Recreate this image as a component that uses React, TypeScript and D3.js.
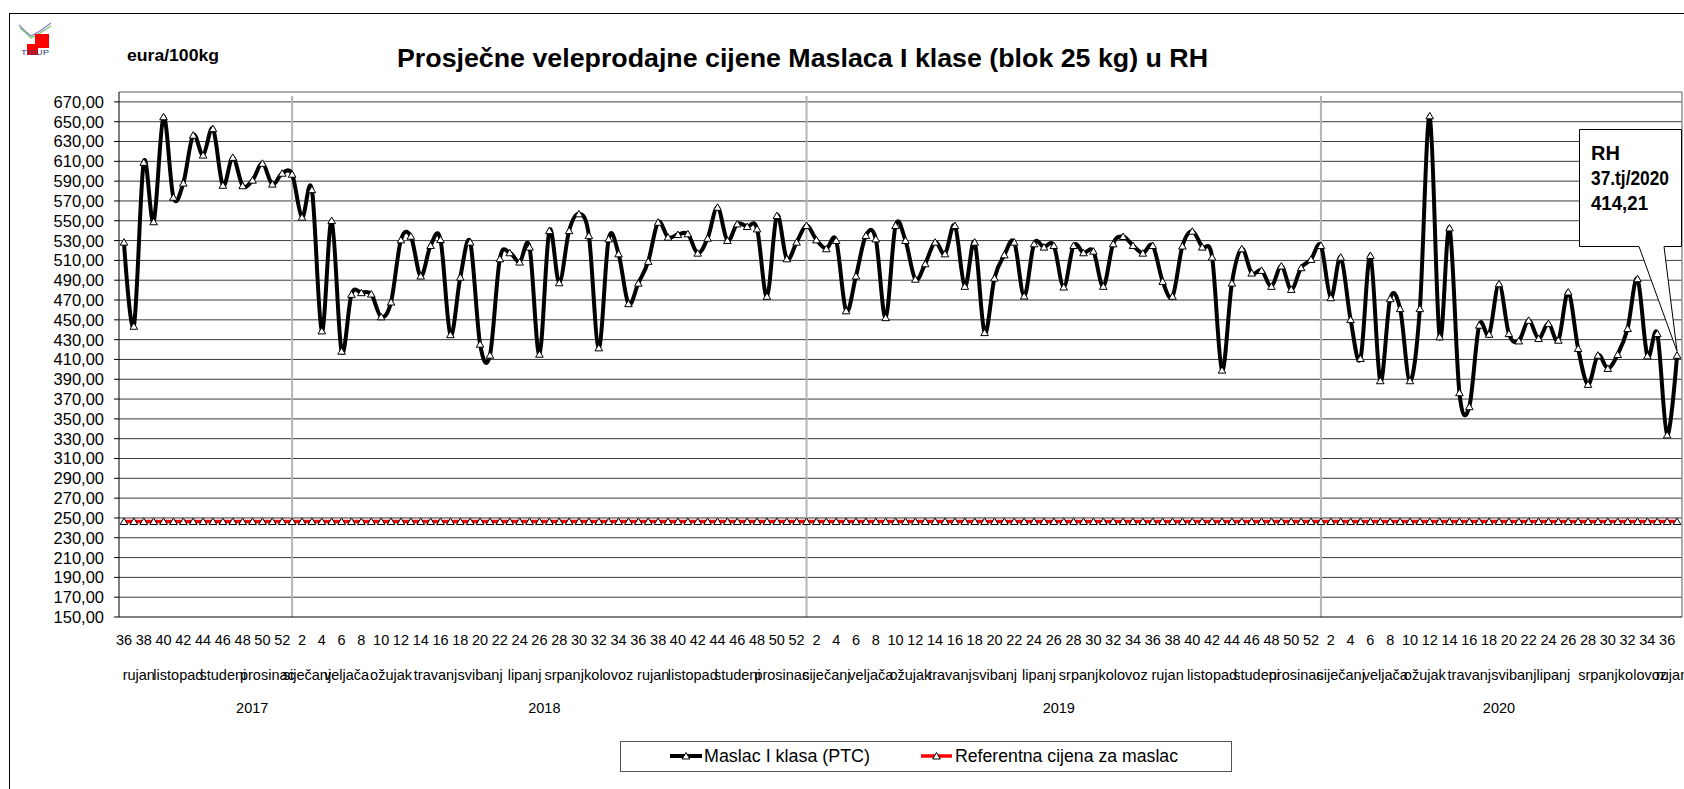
import * as d3 from 'd3';

// Maslac I klasa (PTC), eura/100kg, po tjednima
const weeks2017 = d3.range(36, 53);
const weeks2018 = d3.range(1, 53);
const weeks2019 = d3.range(1, 53);
const weeks2020 = d3.range(1, 38);

const maslac2017 = [528.4, 443.5, 609, 549, 655, 573.7, 588, 636.4, 616.3, 643, 585.8, 614, 585.4, 591, 608, 587, 598];
const maslac2018 = [
  597, 553.6, 581.4, 438.8, 550.2, 418.3, 475.7, 477.4, 476, 453, 468, 530.7, 534.4, 494.2, 525, 531,
  435, 493, 528.4, 425.4, 414.3, 511.6, 517.7, 508.3, 523.4, 415.3, 540, 487.4, 540, 557, 535, 421.7,
  531.7, 516.6, 466.3, 487, 509, 548.5, 533.4, 536.1, 536.8, 517.3, 532.4, 563.6, 530.1, 546.8, 544.2,
  541.8, 473.7, 555.2, 511.6, 528.4
];
const maslac2019 = [
  545.2, 530.7, 521.7, 530.1, 459.1, 494.2, 535.1, 531.7, 452.2, 545.2, 530.1, 491, 506.6, 528.4, 516.6,
  545.2, 483.8, 528.4, 437.1, 492.2, 515.6, 528.4, 474, 526.7, 523.4, 525, 483.1, 525, 517.7, 519.3,
  483.8, 526.7, 534.1, 525, 517.3, 525, 488.8, 473.7, 524.5, 539.5, 523.4, 513.3, 399.2, 487.1, 521.7,
  497.2, 499.9, 483.8, 504.3, 480.7, 502.6, 511
];
const maslac2020 = [
  525, 472.3, 513.3, 450.2, 411, 515, 388.5, 471.3, 461.3, 388.5, 461.3, 655.9, 432.8, 542.8, 376.4,
  362.3, 444.6, 435.4, 486.4, 436.1, 428.7, 449.5, 431.1, 446.2, 429.4, 478.1, 421, 384.8, 414.3, 400.9,
  415, 441.2, 491.5, 413.6, 436.1, 333.8, 414.21
];
const referentnaCijena = 246.4;

const years = ['2017', '2018', '2019', '2020'];
const monthNames = ['siječanj', 'veljača', 'ožujak', 'travanj', 'svibanj', 'lipanj', 'srpanj', 'kolovoz', 'rujan', 'listopad', 'studeni', 'prosinac'];
// broj tjedana po mjesecu (prvi mjesec u nizu, broj tjedana)
const months2017 = { first: 8, spans: [4, 4, 5, 4] };
const months2018 = { first: 0, spans: [4, 4, 5, 4, 5, 4, 4, 5, 4, 4, 5, 4] };
const months2019 = { first: 0, spans: [5, 4, 4, 4, 5, 4, 4, 5, 4, 5, 4, 4] };
const months2020 = { first: 0, spans: [5, 4, 4, 5, 4, 4, 5, 4, 2] };

const yTicks = d3.range(150, 671, 20);
const font = '"Liberation Sans", Arial, sans-serif';

const W = 1684;
const H = 789;
const plot = { left: 119, right: 1682, top: 92, bottom: 617 };

const App = () => {
  const weekLists = [weeks2017, weeks2018, weeks2019, weeks2020];
  const valueLists = [maslac2017, maslac2018, maslac2019, maslac2020];
  const monthLists = [months2017, months2018, months2019, months2020];

  const points = weekLists.flatMap((wl, yi) => wl.map((w, k) => ({ year: years[yi], week: w, value: valueLists[yi][k] })));
  const idx = points.map((_, i) => i);

  const x = d3.scaleBand<number>().domain(idx).range([plot.left, plot.right]).padding(0);
  const cx = (i: number) => (x(i) as number) + x.bandwidth() / 2;
  const y = d3.scaleLinear().domain([150, 680]).range([plot.bottom, plot.top]);

  const line = d3.line<{ value: number }>()
    .x((_, i) => cx(i))
    .y(d => y(d.value))
    .curve(d3.curveCatmullRom.alpha(0));

  const refPath = d3.line<number>().x(i => cx(i)).y(() => y(referentnaCijena))(idx) as string;

  let offset = 0;
  const yearGroups = weekLists.map((wl, yi) => {
    const g = { year: years[yi], start: offset, end: offset + wl.length - 1 };
    offset += wl.length;
    return g;
  });

  const monthGroups: { name: string; start: number; end: number }[] = [];
  yearGroups.forEach((g, yi) => {
    let s = g.start;
    const m = monthLists[yi];
    m.spans.forEach((n, k) => {
      monthGroups.push({ name: monthNames[m.first + k], start: s, end: s + n - 1 });
      s += n;
    });
  });

  // Excel puts the label of the partial first year further right
  const yearLabelX = (g: { start: number; end: number }, k: number) =>
    k === 0 ? cx(g.end) - 30 : (cx(g.start) + cx(g.end)) / 2;

  const tri = (px: number, py: number) => `M${px},${py - 3.5}L${px + 3.8},${py + 3}L${px - 3.8},${py + 3}Z`;

  const lastI = points.length - 1;
  const lastX = cx(lastI);
  const lastY = y(points[lastI].value);

  return (
    <svg width={W} height={H} style={{ position: 'absolute', left: 0, top: 0, display: 'block', background: '#fff' }}>
      <rect x={9.5} y={13.5} width={W + 10} height={H} fill="#fff" stroke="#000" strokeWidth={1} />

      {/* logo */}
      <g>
        <polyline points="19,25 25,31 31,36 40,31 51,23" fill="none" stroke="#8a7fc0" strokeWidth={1.3} />
        <polyline points="20,28 26,33 31,38 40,33 51,26" fill="none" stroke="#6cc96c" strokeWidth={1.2} />
        <rect x={35} y={34} width={14} height={14} fill="#f00" />
        <rect x={27} y={44} width={11} height={11} fill="#f00" />
        <text x={35} y={55} fontFamily={font} fontSize={6.5} textAnchor="middle" fill="#2b3f7a" textLength={28} lengthAdjust="spacingAndGlyphs">TISUP</text>
      </g>

      <text x={127} y={61} fontFamily={font} fontSize={16} fontWeight="bold" textLength={92} lengthAdjust="spacingAndGlyphs">eura/100kg</text>
      <text x={397} y={67} fontFamily={font} fontSize={25} fontWeight="bold" textLength={811} lengthAdjust="spacingAndGlyphs">
        Prosječne veleprodajne cijene Maslaca I klase (blok 25 kg) u RH
      </text>

      {/* grid */}
      {yTicks.filter(t => t > 150).map(t => (
        <line key={t} x1={plot.left} x2={plot.right} y1={y(t)} y2={y(t)} stroke="#3a3a3a" strokeWidth={1} />
      ))}
      <line x1={plot.left} x2={plot.right} y1={plot.top} y2={plot.top} stroke="#909090" strokeWidth={1.5} />
      <line x1={plot.right} x2={plot.right} y1={plot.top} y2={plot.bottom} stroke="#909090" strokeWidth={1.5} />
      {yearGroups.slice(1).map(g => (
        <line key={g.year} x1={cx(g.start)} x2={cx(g.start)} y1={plot.top + 4} y2={plot.bottom} stroke="#b4b4b4" strokeWidth={2} />
      ))}

      {/* axes */}
      <line x1={plot.left} x2={plot.left} y1={plot.top} y2={plot.bottom} stroke="#000" strokeWidth={1} />
      <line x1={plot.left} x2={plot.right} y1={plot.bottom} y2={plot.bottom} stroke="#000" strokeWidth={1} />
      {yTicks.map(t => (
        <g key={t}>
          <line x1={plot.left - 5} x2={plot.left} y1={y(t)} y2={y(t)} stroke="#000" />
          <text x={104} y={y(t)} dy="0.36em" textAnchor="end" fontFamily={font} fontSize={16.5}>
            {t.toFixed(2).replace('.', ',')}
          </text>
        </g>
      ))}

      {points.map((p, i) => i % 2 === 0 ? (
        <text key={i} x={cx(i)} y={645} textAnchor="middle" fontFamily={font} fontSize={14.5}>{p.week}</text>
      ) : null)}
      {monthGroups.map((m, k) => (
        <text key={k} x={(cx(m.start) + cx(m.end)) / 2} y={680} textAnchor="middle" fontFamily={font} fontSize={14.5}>{m.name}</text>
      ))}
      {yearGroups.map((g, k) => (
        <text key={g.year} x={yearLabelX(g, k)} y={713} textAnchor="middle" fontFamily={font} fontSize={14.5}>{g.year}</text>
      ))}

      {/* series */}
      <path d={refPath} fill="none" stroke="#ff0000" strokeWidth={3.5} />
      {idx.map(i => (
        <path key={'r' + i} d={tri(cx(i), y(referentnaCijena))} fill="#fff" stroke="#000" strokeWidth={1} />
      ))}
      <path d={line(points) as string} fill="none" stroke="#000" strokeWidth={4} strokeLinejoin="round" />
      {points.map((p, i) => (
        <path key={'m' + i} d={tri(cx(i), y(p.value))} fill="#fff" stroke="#000" strokeWidth={1} />
      ))}

      {/* callout */}
      <path
        d={`M1579.5,129.5H1681.5V246.5H1664L${lastX},${lastY - 4}L1639,246.5H1579.5Z`}
        fill="#fff" stroke="#000" strokeWidth={1}
      />
      <g fontFamily={font} fontSize={20} fontWeight="bold">
        <text x={1591} y={160}>RH</text>
        <text x={1591} y={185} textLength={78} lengthAdjust="spacingAndGlyphs">37.tj/2020</text>
        <text x={1591} y={210} textLength={57} lengthAdjust="spacingAndGlyphs">414,21</text>
      </g>

      {/* legend */}
      <rect x={620.5} y={741.5} width={611} height={30} fill="#fff" stroke="#555" strokeWidth={1} />
      <line x1={670} x2={702} y1={756} y2={756} stroke="#000" strokeWidth={4} />
      <path d={tri(686, 756)} fill="#fff" stroke="#000" />
      <text x={704} y={762} fontFamily={font} fontSize={17.5} textLength={166} lengthAdjust="spacingAndGlyphs">Maslac I klasa (PTC)</text>
      <line x1={921} x2={952} y1={756} y2={756} stroke="#ff0000" strokeWidth={3.5} />
      <path d={tri(936.5, 756)} fill="#fff" stroke="#000" />
      <text x={955} y={762} fontFamily={font} fontSize={17.5} textLength={223} lengthAdjust="spacingAndGlyphs">Referentna cijena za maslac</text>
    </svg>
  );
};

export default App;
